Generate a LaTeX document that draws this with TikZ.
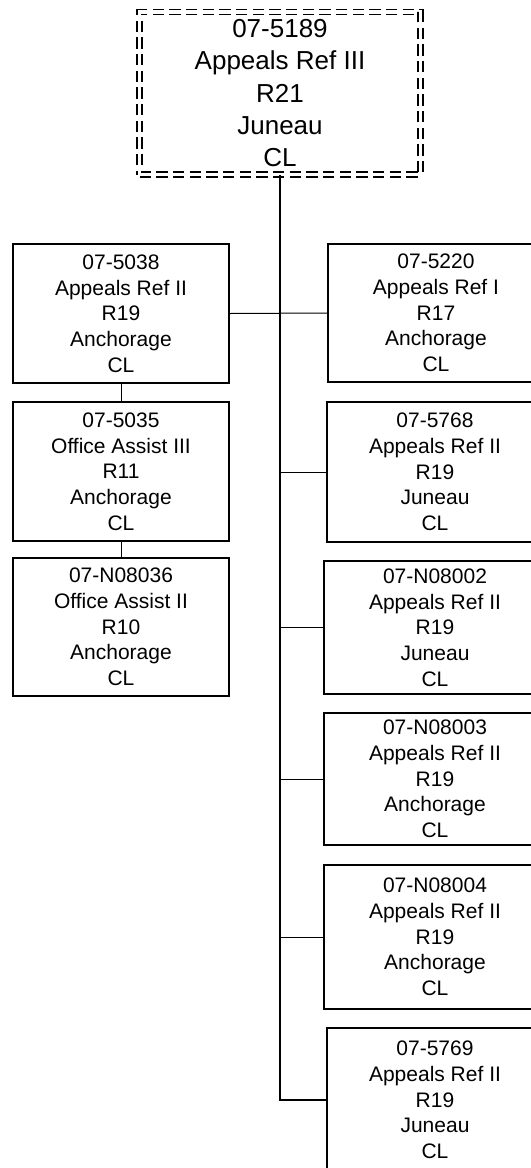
\documentclass[tikz,border=0pt]{standalone}
\usepackage{fontspec}
\setmainfont{Liberation Sans}
\usetikzlibrary{shadows}
\begin{document}
\begin{tikzpicture}[x=0.75pt,y=-0.75pt,
  posbox/.style={draw, line width=1pt, fill=white, align=center, inner sep=0pt,
    minimum width=162pt, font=\fontsize{15.75}{19.3}\selectfont,
    general shadow={shadow xshift=-0.8pt, shadow yshift=-0.8pt, fill=black}},
  widebox/.style={posbox, minimum width=166.5pt},
  topbox/.style={draw, double, double distance=2.4pt, line width=1.4pt,
    dash pattern=on 8.5pt off 4pt, align=center, inner sep=0pt,
    minimum width=210.75pt, minimum height=121.9pt,
    font=\fontsize{19.5}{24.2}\selectfont},
  link/.style={line width=0.75pt},
  trunk/.style={line width=1pt}]
\useasboundingbox (0,0) rectangle (531,1168);
\clip (0,0) rectangle (531,1168);
\node[topbox] (top) at (280,93.25) {07-5189\\Appeals Ref III\\R21\\Juneau\\CL};
\node[posbox, minimum height=104.25pt] (L1) at (121,313.5) {07-5038\\Appeals Ref II\\R19\\Anchorage\\CL};
\node[posbox, minimum height=104.25pt] (L2) at (121,471.5) {07-5035\\Office Assist III\\R11\\Anchorage\\CL};
\node[posbox, minimum height=103.5pt] (L3) at (121,627) {07-N08036\\Office Assist II\\R10\\Anchorage\\CL};
\node[posbox, minimum height=103.5pt] (R1) at (436,313) {07-5220\\Appeals Ref I\\R17\\Anchorage\\CL};
\node[posbox, minimum height=105pt] (R2) at (435,472) {07-5768\\Appeals Ref II\\R19\\Juneau\\CL};
\node[widebox, minimum height=99.75pt] (R3) at (435,627.5) {07-N08002\\Appeals Ref II\\R19\\Juneau\\CL};
\node[widebox, minimum height=99pt] (R4) at (435,779) {07-N08003\\Appeals Ref II\\R19\\Anchorage\\CL};
\node[widebox, minimum height=108pt] (R5) at (435,937) {07-N08004\\Appeals Ref II\\R19\\Anchorage\\CL};
\node[posbox, minimum height=108pt] (R6) at (435,1100) {07-5769\\Appeals Ref II\\R19\\Juneau\\CL};
\draw[trunk] (top.south) -- (top.south |- R6.west) -- (R6.west);
\draw[link] (L1.east) -- (R1.west);
\foreach \r in {R2,R3,R4,R5} \draw[link] (top.south |- \r.west) -- (\r.west);
\draw[link] (L1.south) -- (L2.north);
\draw[link] (L2.south) -- (L3.north);
\end{tikzpicture}
\end{document}
